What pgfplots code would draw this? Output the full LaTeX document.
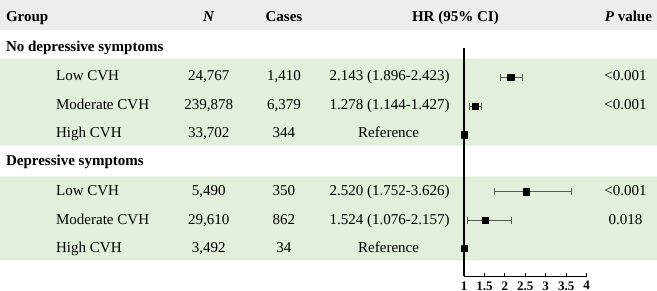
\documentclass[border=0pt]{standalone}
\usepackage{pgfplots}
\pgfplotsset{compat=1.18}
\usepackage{pgfplotstable}
\usepackage{fontspec}
\setmainfont{Liberation Serif}
\definecolor{bandgreen}{HTML}{E2EFDA}
\definecolor{hdrgray}{HTML}{EDEDED}
\definecolor{errgray}{HTML}{595959}

% forest data: y is picture row position (296 - pixel y)
\pgfplotstableread{
hr    lo    hi    y
2.143 1.896 2.423 219
1.278 1.144 1.427 190
1.000 1.000 1.000 161.5
2.520 1.752 3.626 104.5
1.524 1.076 2.157 76
1.000 1.000 1.000 48
}\forestdata
\pgfplotstablecreatecol[expr={\thisrow{hi}-\thisrow{hr}}]{ep}{\forestdata}
\pgfplotstablecreatecol[expr={\thisrow{hr}-\thisrow{lo}}]{em}{\forestdata}

\tikzset{
  tx/.style={inner sep=0pt, outer sep=0pt, font=\fontsize{15}{18}\selectfont},
  tb/.style={inner sep=0pt, outer sep=0pt, font=\fontsize{15}{18}\selectfont\bfseries},
}

\begin{document}
\begin{tikzpicture}
% background table axis (units = pixels)
\begin{axis}[
  name=bg, at={(0,0)}, anchor=south west,
  scale only axis, width=657pt, height=296pt,
  xmin=0, xmax=657, ymin=0, ymax=296,
  axis lines=none, clip=false,
]
\addplot[fill=hdrgray, draw=none] coordinates {(0,266) (656,266) (656,296) (0,296) (0,266)};
\addplot[fill=bandgreen, draw=none] coordinates {(0,150.5) (656,150.5) (656,237.5) (0,237.5) (0,150.5)};
\addplot[fill=bandgreen, draw=none] coordinates {(0,36) (656,36) (656,120) (0,120) (0,36)};

% header
\node[tb, anchor=base west] at (axis cs:6,274.5) {Group};
\node[tb, anchor=base] at (axis cs:208.5,274.5) {\textit{N}};
\node[tb, anchor=base] at (axis cs:283.5,274.5) {Cases};
\node[tb, anchor=base] at (axis cs:454.7,274.5) {HR (95\% CI)};
\node[tb, anchor=base east] at (axis cs:651,274.5) {\textit{P} value};

% group 1
\node[tb, anchor=base west] at (axis cs:6,244.3) {No depressive symptoms};
\node[tx, anchor=base west] at (axis cs:56,216) {Low CVH};
\node[tx, anchor=base west] at (axis cs:56,187) {Moderate CVH};
\node[tx, anchor=base west] at (axis cs:56,159) {High CVH};
\node[tx, anchor=base] at (axis cs:208.5,216) {24,767};
\node[tx, anchor=base] at (axis cs:208.5,187) {239,878};
\node[tx, anchor=base] at (axis cs:208.5,159) {33,702};
\node[tx, anchor=base] at (axis cs:283.5,216) {1,410};
\node[tx, anchor=base] at (axis cs:283.5,187) {6,379};
\node[tx, anchor=base] at (axis cs:283.5,159) {344};
\node[tx, anchor=base] at (axis cs:389,216) {2.143 (1.896-2.423)};
\node[tx, anchor=base] at (axis cs:389,187) {1.278 (1.144-1.427)};
\node[tx, anchor=base] at (axis cs:388,159) {Reference};
\node[tx, anchor=base] at (axis cs:624.5,216) {<0.001};
\node[tx, anchor=base] at (axis cs:624.5,187) {<0.001};

% group 2
\node[tb, anchor=base west] at (axis cs:6,130.3) {Depressive symptoms};
\node[tx, anchor=base west] at (axis cs:56,101) {Low CVH};
\node[tx, anchor=base west] at (axis cs:56,72) {Moderate CVH};
\node[tx, anchor=base west] at (axis cs:56,43.7) {High CVH};
\node[tx, anchor=base] at (axis cs:208.5,101) {5,490};
\node[tx, anchor=base] at (axis cs:208.5,72) {29,610};
\node[tx, anchor=base] at (axis cs:208.5,43.7) {3,492};
\node[tx, anchor=base] at (axis cs:283.5,101) {350};
\node[tx, anchor=base] at (axis cs:283.5,72) {862};
\node[tx, anchor=base] at (axis cs:283.5,43.7) {34};
\node[tx, anchor=base] at (axis cs:389,101) {2.520 (1.752-3.626)};
\node[tx, anchor=base] at (axis cs:389,72) {1.524 (1.076-2.157)};
\node[tx, anchor=base] at (axis cs:388,43.7) {Reference};
\node[tx, anchor=base] at (axis cs:624.5,101) {<0.001};
\node[tx, anchor=base] at (axis cs:624.5,72) {0.018};
\end{axis}

% forest plot axis
\begin{axis}[
  at={(463.3pt,20pt)}, anchor=south west,
  scale only axis, width=122.4pt, height=228pt,
  xmin=1, xmax=4, ymin=20, ymax=248,
  axis x line=bottom, axis y line=left,
  axis line style={-},
  x axis line style={line width=1.3pt},
  y axis line style={line width=2pt},
  ytick=\empty,
  xtick={1,1.5,2,2.5,3,3.5,4},
  xticklabels={1,1.5,2,2.5,3,3.5,4},
  tick align=inside,
  major tick length=3pt,
  tick style={line width=1pt, black},
  xticklabel style={font=\fontsize{13}{15}\selectfont\bfseries, inner sep=0pt, outer sep=0pt, anchor=north, yshift=-5pt},
  /pgf/number format/assume math mode=true,
  clip=false,
]
\addplot[draw=none, mark=none, errgray,
  error bars/.cd, x dir=both, x explicit,
  error bar style={line width=1pt, errgray},
  error mark=|, error mark options={mark size=3.5pt, line width=1pt, errgray}]
  table[x=hr, y=y, x error plus=ep, x error minus=em] {\forestdata};
\addplot[only marks, mark=square*, mark size=3.2pt, black]
  table[x=hr, y=y] {\forestdata};
\end{axis}
\end{tikzpicture}
\end{document}
